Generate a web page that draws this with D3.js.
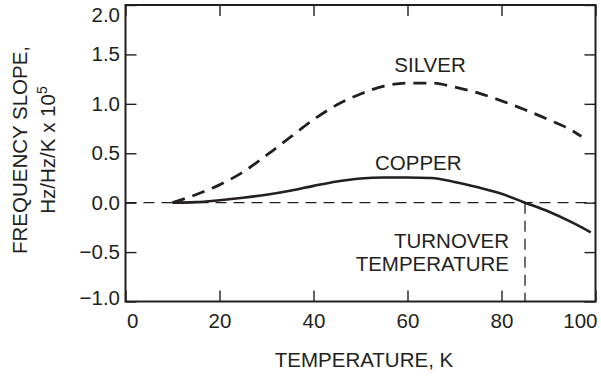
<!DOCTYPE html>
<html>
<head>
<meta charset="utf-8">
<script src="https://cdn.jsdelivr.net/npm/d3@7"></script>
<style>
  body { margin: 0; background: #fff; }
  svg text { font-family: "Liberation Sans", Arial, sans-serif; fill: #231f20; }
</style>
</head>
<body>
<svg id="chart" width="601" height="377"></svg>
<script>
// Data (temperature K, frequency slope x 1e5)
const silverT = [10, 12, 16, 20, 25, 30, 35, 40, 45, 50, 55, 60, 65, 70, 75, 80, 85, 90, 95, 97];
const silverV = [0, 0.03, 0.1, 0.18, 0.31, 0.48, 0.66, 0.84, 0.99, 1.1, 1.18, 1.21, 1.21, 1.17, 1.11, 1.03, 0.94, 0.84, 0.73, 0.67];
const copperT = [10, 15, 20, 25, 30, 35, 40, 45, 50, 55, 60, 65, 70, 75, 80, 85, 90, 95, 99];
const copperV = [0, 0.005, 0.025, 0.05, 0.08, 0.12, 0.17, 0.215, 0.245, 0.255, 0.255, 0.25, 0.21, 0.155, 0.09, 0, -0.09, -0.2, -0.3];
const xTicks = [0, 20, 40, 60, 80, 100];
const yTicks = [-1.0, -0.5, 0.0, 0.5, 1.0, 1.5, 2.0];
const turnover = 85;

const ink = '#231f20';
const svg = d3.select('#chart');

const x = d3.scaleLinear().domain([0, 100]).range([125.5, 595.5]);
const y = d3.scaleLinear().domain([-1, 2]).range([301.5, 5]);

const fmtY = d => d < 0 ? '\u2212' + Math.abs(d).toFixed(1) : d.toFixed(1);

// Axes (ticks point inward on all four sides)
const gB = svg.append('g').attr('transform', `translate(0,${y(-1)})`)
  .call(d3.axisBottom(x).tickValues(xTicks).tickSize(-11).tickPadding(11.5));
const gT = svg.append('g').attr('transform', `translate(0,${y(2)})`)
  .call(d3.axisTop(x).tickValues(xTicks).tickSize(-11).tickFormat(() => ''));
const gL = svg.append('g').attr('transform', `translate(${x(0)},0)`)
  .call(d3.axisLeft(y).tickValues(yTicks).tickSize(-11).tickPadding(5.5).tickFormat(fmtY));
const gR = svg.append('g').attr('transform', `translate(${x(100)},0)`)
  .call(d3.axisRight(y).tickValues(yTicks).tickSize(-11).tickFormat(() => ''));

[gB, gT, gL, gR].forEach(g => {
  g.select('.domain').remove();
  g.selectAll('line').attr('stroke', ink).attr('stroke-width', 1.4);
  g.selectAll('text').attr('font-size', 20.5).attr('fill', ink)
    .style('font-family', '"Liberation Sans", Arial, sans-serif');
});

// end labels kept inside the frame
gB.selectAll('.tick text').filter(d => d === 0).attr('text-anchor', 'start').attr('x', 1);
gB.selectAll('.tick text').filter(d => d === 100).attr('text-anchor', 'end').attr('x', 1.5);
gL.selectAll('.tick text').filter(d => d === 2).attr('dy', '0.72em').attr('y', 1.5);
gL.selectAll('.tick text').filter(d => d === -1).attr('dy', '0em').attr('y', 2.5);

// Frame
svg.append('rect')
  .attr('x', x(0)).attr('y', y(2))
  .attr('width', x(100) - x(0)).attr('height', y(-1) - y(2))
  .attr('fill', 'none').attr('stroke', ink).attr('stroke-width', 2);

// Zero line and turnover marker
svg.append('line')
  .attr('x1', x(0)).attr('x2', x(100)).attr('y1', y(0)).attr('y2', y(0))
  .attr('stroke', ink).attr('stroke-width', 1.3).attr('stroke-dasharray', '11,7');
svg.append('line')
  .attr('x1', x(turnover)).attr('x2', x(turnover)).attr('y1', y(0)).attr('y2', y(-1))
  .attr('stroke', ink).attr('stroke-width', 1.3).attr('stroke-dasharray', '11,7');

const line = d3.line().x(d => x(d[0])).y(d => y(d[1])).curve(d3.curveMonotoneX);

svg.append('path')
  .datum(d3.zip(silverT, silverV))
  .attr('d', line)
  .attr('fill', 'none').attr('stroke', ink).attr('stroke-width', 2.8)
  .attr('stroke-dasharray', '13,8');

svg.append('path')
  .datum(d3.zip(copperT, copperV))
  .attr('d', line)
  .attr('fill', 'none').attr('stroke', ink).attr('stroke-width', 2.6);

// Labels
const label = (t, v, txt, anchor) => svg.append('text')
  .attr('x', x(t)).attr('y', y(v))
  .attr('text-anchor', anchor || 'middle')
  .attr('font-size', 20.5).text(txt);

label(64.8, 1.32, 'SILVER');
label(62.3, 0.332, 'COPPER');
label(81.6, -0.46, 'TURNOVER', 'end');
label(81.6, -0.688, 'TEMPERATURE', 'end');

// Axis titles
svg.append('text')
  .attr('x', 364).attr('y', 366.5)
  .attr('text-anchor', 'middle').attr('font-size', 20.5)
  .text('TEMPERATURE, K');

const yt = svg.append('g').attr('transform', 'translate(0,150) rotate(-90)');
yt.append('text').attr('x', 0).attr('y', 26.5)
  .attr('text-anchor', 'middle').attr('font-size', 20.5)
  .text('FREQUENCY SLOPE,');
const t2 = yt.append('text').attr('x', 0).attr('y', 55)
  .attr('text-anchor', 'middle').attr('font-size', 20.5);
t2.append('tspan').text('Hz/Hz/K x 10');
t2.append('tspan').attr('dy', -8).attr('font-size', 14).text('5');
</script>
</body>
</html>
